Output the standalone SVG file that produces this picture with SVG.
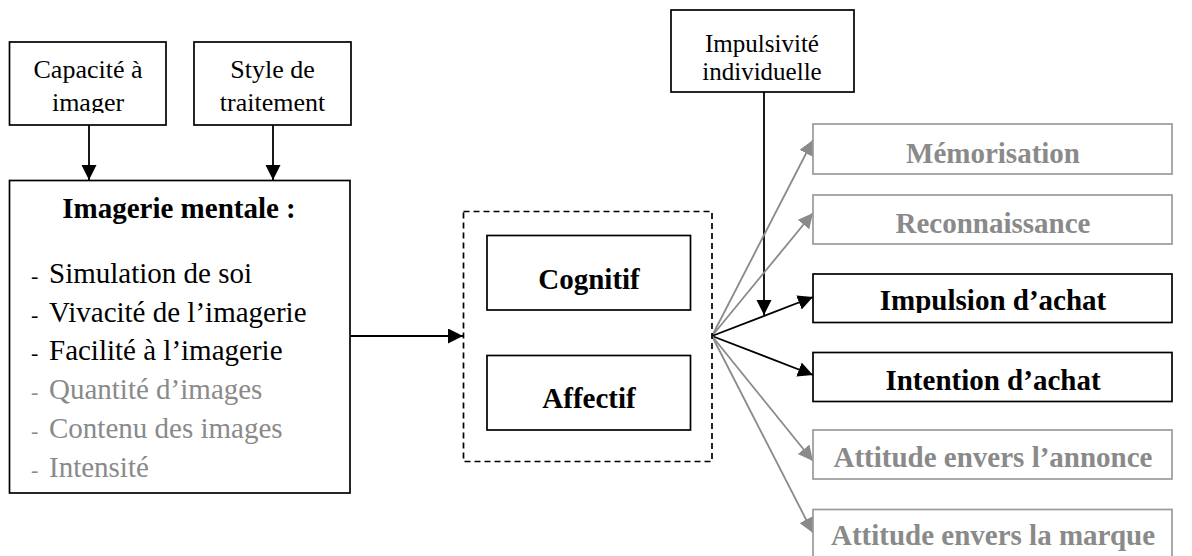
<svg xmlns="http://www.w3.org/2000/svg" width="1192" height="556" viewBox="0 0 1192 556">
<style>
text{font-family:"Liberation Serif","Times New Roman",serif;}
.box{fill:#fff;stroke:#000;stroke-width:1.7;}
.gbox{fill:#fff;stroke:#9a9a9a;stroke-width:1.7;}
.small{font-size:26px;fill:#000;text-anchor:middle;}
.imp{font-size:25px;}
.bold{font-size:29px;font-weight:bold;text-anchor:middle;fill:#000;}
.gbold{font-size:29px;font-weight:bold;text-anchor:middle;fill:#8a8a8a;}
.item{font-size:29px;fill:#000;}
.gitem{font-size:29px;fill:#8a8a8a;}
.dash{font-size:22px;}
.blk{stroke:#000;stroke-width:1.8;fill:none;}
.gry{stroke:#8a8a8a;stroke-width:1.8;fill:none;}
</style>
<defs>
<marker id="ab" markerUnits="userSpaceOnUse" markerWidth="16" markerHeight="16" refX="15" refY="7.5" orient="auto"><path d="M0,0 L15,7.5 L0,15 z" fill="#000"/></marker>
<marker id="ag" markerUnits="userSpaceOnUse" markerWidth="16" markerHeight="16" refX="15" refY="7.5" orient="auto"><path d="M0,0 L15,7.5 L0,15 z" fill="#8a8a8a"/></marker>
<clipPath id="clipCap"><rect x="9" y="42" width="158" height="71"/></clipPath>
<clipPath id="clipImp"><rect x="813" y="274" width="360" height="39"/></clipPath>
</defs>
<rect width="1192" height="556" fill="#fff"/>

<g id="connectors">
<line class="blk" x1="89" y1="125" x2="89" y2="180" marker-end="url(#ab)"/>
<line class="blk" x1="273" y1="125" x2="273" y2="180" marker-end="url(#ab)"/>
<line class="blk" x1="350" y1="336" x2="463" y2="336" marker-end="url(#ab)"/>
<line class="blk" x1="764" y1="92" x2="764" y2="315" stroke-width="1.5" marker-end="url(#ab)"/>
<line class="gry" x1="712" y1="336" x2="813" y2="140" marker-end="url(#ag)"/>
<line class="gry" x1="712" y1="336" x2="813" y2="213" marker-end="url(#ag)"/>
<line class="blk" x1="712" y1="336" x2="813" y2="297" marker-end="url(#ab)"/>
<line class="blk" x1="712" y1="336" x2="813" y2="375" marker-end="url(#ab)"/>
<line class="gry" x1="712" y1="336" x2="813" y2="461" marker-end="url(#ag)"/>
<line class="gry" x1="712" y1="336" x2="813" y2="533" marker-end="url(#ag)"/>
</g>

<g id="capacite">
<rect class="box" x="9.5" y="42" width="156.5" height="83"/>
<g clip-path="url(#clipCap)">
<text class="small" x="88" y="78">Capacité à</text>
<text class="small" x="88" y="111">imager</text>
</g>
</g>

<g id="style">
<rect class="box" x="194" y="42" width="157" height="83"/>
<text class="small" x="272.5" y="78">Style de</text>
<text class="small" x="272.5" y="111">traitement</text>
</g>

<g id="imagerie">
<rect class="box" x="9.5" y="180.5" width="340.5" height="312.5"/>
<text class="bold" x="179" y="218">Imagerie mentale :</text>
<text class="item dash" x="31" y="283">-</text><text class="item" x="49" y="283">Simulation de soi</text>
<text class="item dash" x="31" y="322">-</text><text class="item" x="49" y="322">Vivacité de l’imagerie</text>
<text class="item dash" x="31" y="360">-</text><text class="item" x="49" y="360">Facilité à l’imagerie</text>
<text class="gitem dash" x="31" y="399">-</text><text class="gitem" x="49" y="399">Quantité d’images</text>
<text class="gitem dash" x="31" y="438">-</text><text class="gitem" x="49" y="438">Contenu des images</text>
<text class="gitem dash" x="31" y="477">-</text><text class="gitem" x="49" y="477">Intensité</text>
</g>

<g id="groupe">
<rect x="463.5" y="211.5" width="248.5" height="250" fill="none" stroke="#000" stroke-width="1.7" stroke-dasharray="6,4"/>
</g>

<g id="cognitif">
<rect class="box" x="487" y="235.5" width="203.5" height="74.5"/>
<text class="bold" x="589" y="289">Cognitif</text>
</g>

<g id="affectif">
<rect class="box" x="487" y="355.5" width="203.5" height="74.5"/>
<text class="bold" x="589" y="408">Affectif</text>
</g>

<g id="impulsivite">
<rect class="box" x="671" y="10" width="183" height="82"/>
<text class="small imp" x="762" y="52">Impulsivité</text>
<text class="small imp" x="762" y="80">individuelle</text>
</g>

<g id="memorisation">
<rect class="gbox" x="813" y="124" width="359" height="50"/>
<text class="gbold" x="993" y="163">Mémorisation</text>
</g>

<g id="reconnaissance">
<rect class="gbox" x="813" y="195" width="359" height="49"/>
<text class="gbold" x="993" y="233">Reconnaissance</text>
</g>

<g id="impulsion">
<rect class="box" x="813" y="274" width="359" height="48.5"/>
<g clip-path="url(#clipImp)">
<text class="bold" x="993" y="310">Impulsion d’achat</text>
</g>
</g>

<g id="intention">
<rect class="box" x="813" y="352.5" width="359" height="49"/>
<text class="bold" x="993" y="390">Intention d’achat</text>
</g>

<g id="annonce">
<rect class="gbox" x="813" y="430" width="359" height="49"/>
<text class="gbold" x="993" y="467">Attitude envers l’annonce</text>
</g>

<g id="marque">
<rect class="gbox" x="813" y="509.5" width="359" height="60"/>
<text class="gbold" x="993" y="545">Attitude envers la marque</text>
</g>
</svg>
